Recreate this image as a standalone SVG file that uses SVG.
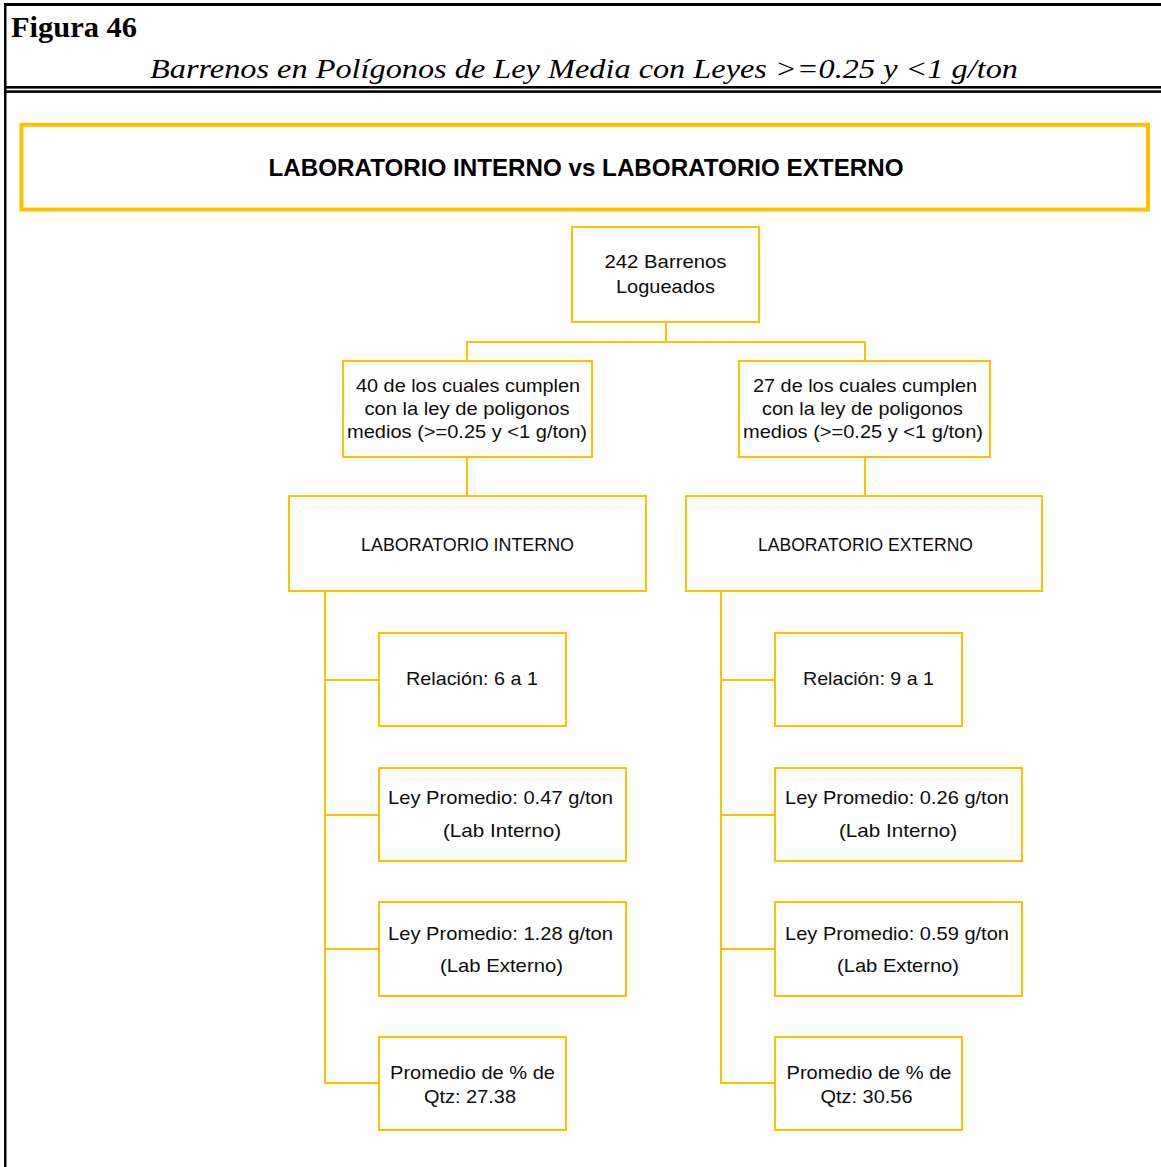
<svg xmlns="http://www.w3.org/2000/svg" width="1161" height="1167" viewBox="0 0 1161 1167">
  <style>
    .frame { fill: #000000; }
    .box { fill: #FFFFFF; stroke: #FFC000; stroke-width: 2; }
    .wire { fill: none; stroke: #FFC000; stroke-width: 2; }
    .lbl { font-family: "Liberation Sans", Arial, sans-serif; font-size: 19px; fill: #0D0D0D; text-anchor: middle; }
    .head { font-family: "Liberation Sans", Arial, sans-serif; font-size: 24px; font-weight: bold; fill: #000000; text-anchor: middle; }
    .fig { font-family: "Liberation Serif", "Times New Roman", serif; font-size: 30px; font-weight: bold; fill: #000000; }
    .cap { font-family: "Liberation Serif", "Times New Roman", serif; font-size: 28px; font-style: italic; fill: #000000; }
  </style>

  <rect width="1161" height="1167" fill="#FFFFFF"/>

  <!-- page frame -->
  <g id="frame">
    <rect class="frame" x="4" y="3" width="1157" height="3"/>
    <rect class="frame" x="4" y="3" width="2.5" height="1164"/>
    <rect class="frame" x="4" y="86" width="1157" height="2.6"/>
    <rect class="frame" x="4" y="90.3" width="1157" height="2.6"/>
    <text class="fig" x="11" y="37" textLength="126" lengthAdjust="spacingAndGlyphs">Figura 46</text>
    <text class="cap" x="150" y="78" textLength="868" lengthAdjust="spacingAndGlyphs">Barrenos en Polígonos de Ley Media con Leyes &gt;=0.25 y &lt;1 g/ton</text>
  </g>

  <!-- banner -->
  <g id="banner">
    <rect x="21.5" y="124.8" width="1126.5" height="84.8" fill="#FFFFFF" stroke="#FFC000" stroke-width="4"/>
    <text class="head" x="586" y="176" textLength="635" lengthAdjust="spacingAndGlyphs">LABORATORIO INTERNO vs LABORATORIO EXTERNO</text>
  </g>

  <!-- connectors -->
  <g id="connectors">
    <path class="wire" d="M666 322 V342 M467 342 H865 M467 341 V361 M865 341 V361"/>
    <path class="wire" d="M467 457 V496 M865 457 V496"/>
    <path class="wire" d="M325 591 V1084 M324 680 H379 M324 815 H379 M324 949 H379 M324 1083 H379"/>
    <path class="wire" d="M721 591 V1084 M720 680 H775 M720 815 H775 M720 949 H775 M720 1083 H775"/>
  </g>

  <!-- root -->
  <g id="root">
    <rect class="box" x="572" y="227" width="187" height="95"/>
    <text class="lbl" x="665.5" y="268" textLength="122" lengthAdjust="spacingAndGlyphs">242 Barrenos</text>
    <text class="lbl" x="665.5" y="293" textLength="99" lengthAdjust="spacingAndGlyphs">Logueados</text>
  </g>

  <!-- left branch -->
  <g id="filter-left">
    <rect class="box" x="343" y="361" width="249" height="96"/>
    <text class="lbl" x="468" y="392" textLength="224" lengthAdjust="spacingAndGlyphs">40 de los cuales cumplen</text>
    <text class="lbl" x="467" y="415" textLength="205" lengthAdjust="spacingAndGlyphs">con la ley de poligonos</text>
    <text class="lbl" x="467" y="438" textLength="240" lengthAdjust="spacingAndGlyphs">medios (&gt;=0.25 y &lt;1 g/ton)</text>
  </g>

  <g id="lab-interno">
    <rect class="box" x="289" y="496" width="357" height="95"/>
    <text class="lbl" x="467.5" y="551" textLength="213" lengthAdjust="spacingAndGlyphs">LABORATORIO INTERNO</text>
  </g>

  <g id="relacion-left">
    <rect class="box" x="379" y="633" width="187" height="93"/>
    <text class="lbl" x="472" y="685" textLength="132" lengthAdjust="spacingAndGlyphs">Relación: 6 a 1</text>
  </g>

  <g id="ley-int-left">
    <rect class="box" x="379" y="768" width="247" height="93"/>
    <text class="lbl" x="500.5" y="804" textLength="225" lengthAdjust="spacingAndGlyphs">Ley Promedio: 0.47 g/ton</text>
    <text class="lbl" x="502" y="837" textLength="118" lengthAdjust="spacingAndGlyphs">(Lab Interno)</text>
  </g>

  <g id="ley-ext-left">
    <rect class="box" x="379" y="902" width="247" height="94"/>
    <text class="lbl" x="500.5" y="940" textLength="225" lengthAdjust="spacingAndGlyphs">Ley Promedio: 1.28 g/ton</text>
    <text class="lbl" x="501.5" y="972" textLength="123" lengthAdjust="spacingAndGlyphs">(Lab Externo)</text>
  </g>

  <g id="qtz-left">
    <rect class="box" x="379" y="1037" width="187" height="93"/>
    <text class="lbl" x="472.5" y="1079" textLength="165" lengthAdjust="spacingAndGlyphs">Promedio de % de</text>
    <text class="lbl" x="470" y="1103" textLength="92" lengthAdjust="spacingAndGlyphs">Qtz: 27.38</text>
  </g>

  <!-- right branch -->
  <g id="filter-right">
    <rect class="box" x="739" y="361" width="251" height="96"/>
    <text class="lbl" x="865" y="392" textLength="224" lengthAdjust="spacingAndGlyphs">27 de los cuales cumplen</text>
    <text class="lbl" x="862.5" y="415" textLength="201" lengthAdjust="spacingAndGlyphs">con la ley de poligonos</text>
    <text class="lbl" x="863" y="438" textLength="240" lengthAdjust="spacingAndGlyphs">medios (&gt;=0.25 y &lt;1 g/ton)</text>
  </g>

  <g id="lab-externo">
    <rect class="box" x="686" y="496" width="356" height="95"/>
    <text class="lbl" x="865.5" y="551" textLength="215" lengthAdjust="spacingAndGlyphs">LABORATORIO EXTERNO</text>
  </g>

  <g id="relacion-right">
    <rect class="box" x="775" y="633" width="187" height="93"/>
    <text class="lbl" x="868.5" y="685" textLength="131" lengthAdjust="spacingAndGlyphs">Relación: 9 a 1</text>
  </g>

  <g id="ley-int-right">
    <rect class="box" x="775" y="768" width="247" height="93"/>
    <text class="lbl" x="897" y="804" textLength="224" lengthAdjust="spacingAndGlyphs">Ley Promedio: 0.26 g/ton</text>
    <text class="lbl" x="898" y="837" textLength="118" lengthAdjust="spacingAndGlyphs">(Lab Interno)</text>
  </g>

  <g id="ley-ext-right">
    <rect class="box" x="775" y="902" width="247" height="94"/>
    <text class="lbl" x="897" y="940" textLength="224" lengthAdjust="spacingAndGlyphs">Ley Promedio: 0.59 g/ton</text>
    <text class="lbl" x="898" y="972" textLength="122" lengthAdjust="spacingAndGlyphs">(Lab Externo)</text>
  </g>

  <g id="qtz-right">
    <rect class="box" x="775" y="1037" width="187" height="93"/>
    <text class="lbl" x="869" y="1079" textLength="165" lengthAdjust="spacingAndGlyphs">Promedio de % de</text>
    <text class="lbl" x="866.5" y="1103" textLength="92" lengthAdjust="spacingAndGlyphs">Qtz: 30.56</text>
  </g>
</svg>
